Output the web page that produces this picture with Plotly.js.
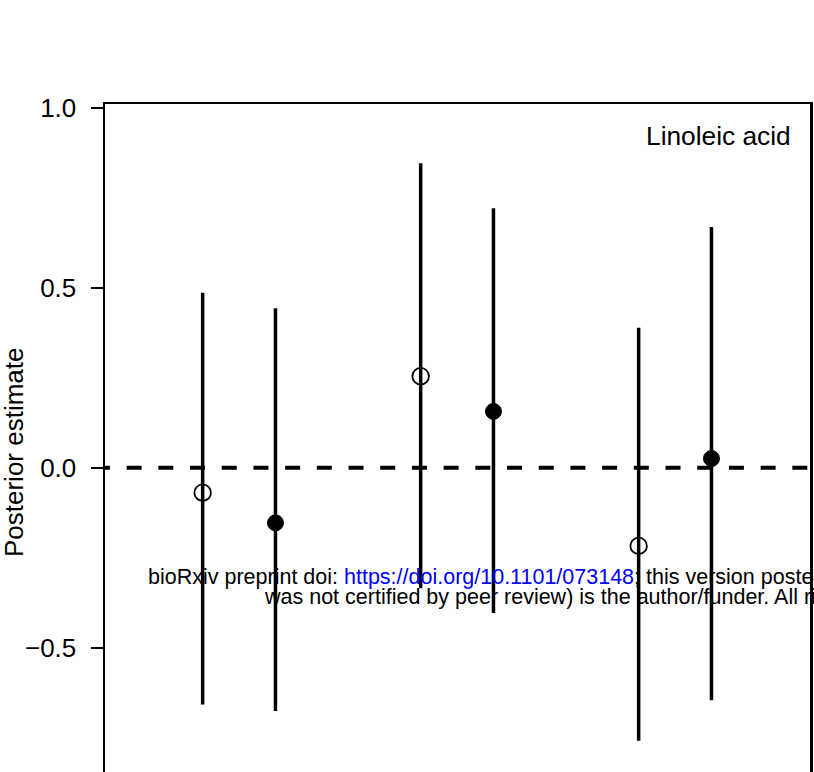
<!DOCTYPE html>
<html>
<head>
<meta charset="utf-8">
<script src="https://cdn.plot.ly/plotly-3.0.1.min.js"></script>
<style>
html, body { margin: 0; padding: 0; overflow: hidden; background: #fff; }
#chart { width: 814px; height: 880px; }
</style>
</head>
<body>
<div id="chart"></div>
<script>
// Open circles (first estimate in each pair)
const openX = [0.833, 1.833, 2.833];
const openEst = [-0.069, 0.255, -0.217];
const openLower = [-0.658, -0.335, -0.759];
const openUpper = [0.487, 0.847, 0.390];

// Filled circles (second estimate in each pair)
const filledX = [1.167, 2.167, 3.167];
const filledEst = [-0.153, 0.157, 0.026];
const filledLower = [-0.676, -0.404, -0.646];
const filledUpper = [0.444, 0.722, 0.670];

const yTickVals = [-0.5, 0.0, 0.5, 1.0];
const yTickText = ['\u22120.5', '0.0', '0.5', '1.0'];

const panelLabel = 'Linoleic acid';
const yTitle = 'Posterior estimate';

const FONT = 'Liberation Sans, Arial, Helvetica, sans-serif';

function diff(a, b) { return a.map((v, i) => v - b[i]); }

const traces = [
  {
    type: 'scatter', mode: 'markers',
    x: openX, y: openEst,
    error_y: { type: 'data', symmetric: false,
      array: diff(openUpper, openEst), arrayminus: diff(openEst, openLower),
      color: '#000', thickness: 3.5, width: 0 },
    marker: { symbol: 'circle-open', size: 16.5, color: '#000', line: { color: '#000', width: 1.8 } },
    showlegend: false, hoverinfo: 'skip'
  },
  {
    type: 'scatter', mode: 'markers',
    x: filledX, y: filledEst,
    error_y: { type: 'data', symmetric: false,
      array: diff(filledUpper, filledEst), arrayminus: diff(filledEst, filledLower),
      color: '#000', thickness: 3.5, width: 0 },
    marker: { symbol: 'circle', size: 16, color: '#000', line: { color: '#000', width: 1 } },
    showlegend: false, hoverinfo: 'skip'
  }
];

const layout = {
  width: 814, height: 880,
  margin: { l: 105, r: 3.5, t: 103.5, b: 50, pad: 0 },
  paper_bgcolor: '#fff', plot_bgcolor: '#fff',
  font: { family: FONT, size: 26, color: '#000' },
  xaxis: {
    range: [0.385, 3.619], showgrid: false, zeroline: false,
    showticklabels: false, ticks: '',
    showline: true, mirror: true, linecolor: '#000', linewidth: 2.5
  },
  yaxis: {
    range: [-1.0072, 1.012], showgrid: false, zeroline: false,
    tickvals: yTickVals, ticktext: yTickText,
    ticks: 'outside', ticklen: 12, tickwidth: 2, tickcolor: '#000',
    ticklabelstandoff: 9,
    tickfont: { family: FONT, size: 26, color: '#000' },
    showline: true, mirror: true, linecolor: '#000', linewidth: 2.5
  },
  shapes: [
    { type: 'line', xref: 'x', yref: 'y', x0: 0.3388, x1: 3.8, y0: 0, y1: 0,
      line: { color: '#000', width: 4, dash: '15px,16.7px' }, layer: 'below' }
  ],
  annotations: [
    { text: panelLabel, xref: 'paper', yref: 'paper', x: 0.9755, y: 0.9553,
      xanchor: 'right', yanchor: 'middle', showarrow: false,
      font: { family: FONT, size: 26.3, color: '#000' } },
    { text: yTitle, xref: 'paper', yref: 'paper', x: -0.129, y: 0.5207,
      xanchor: 'center', yanchor: 'middle', textangle: -90, showarrow: false,
      font: { family: FONT, size: 26, color: '#000' } },
    { text: 'bioRxiv preprint doi: <span style="color:#0000ff">https://doi.org/10.1101/073148</span>; this version posted',
      xref: 'paper', yref: 'paper', x: 0.0582, y: 0.3489,
      xanchor: 'left', yanchor: 'middle', showarrow: false,
      font: { family: FONT, size: 21.5, color: '#000' } },
    { text: 'was not certified by peer review) is the author/funder. All rights reserved.',
      xref: 'paper', yref: 'paper', x: 0.2221, y: 0.3214,
      xanchor: 'left', yanchor: 'middle', showarrow: false,
      font: { family: FONT, size: 21.5, color: '#000' } }
  ]
};

Plotly.newPlot('chart', traces, layout, { displayModeBar: false, staticPlot: true });
</script>
</body>
</html>
